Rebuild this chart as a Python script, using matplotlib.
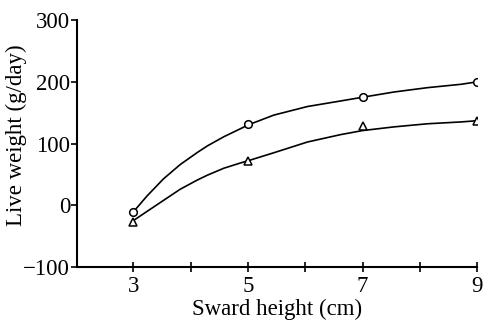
import matplotlib
matplotlib.use('Agg')
import matplotlib.pyplot as plt

# measured points
sward = [3, 5, 7, 9]
circles = [-11, 131, 175, 200]
triangles = [-27, 72, 128, 137]

# fitted curves
curve_x = [3, 3.24, 3.53, 3.82, 4.11, 4.29, 4.58, 4.87, 5, 5.45, 6.04, 6.62, 7, 7.55, 8.13, 8.72, 9]
curve_circ = [-11, 15, 43, 66, 85, 96, 111, 124, 130, 146, 160, 169, 175, 183.5, 190.5, 196, 200]
curve_tri = [-25, -10, 8, 26, 40.5, 48.6, 60, 68.5, 72, 85, 102.5, 114.5, 121, 127, 132, 135, 137]

xticks = [3, 5, 7, 9]
minor_xticks = [4, 6, 8]
yticks = [-100, 0, 100, 200, 300]

plt.rcParams['font.family'] = ['Liberation Serif', 'DejaVu Serif']

fig = plt.figure(figsize=(4.94, 3.24), dpi=100)
ax = fig.add_axes([0.156, 0.176, 0.81, 0.762])

ax.plot(curve_x, curve_circ, color='black', lw=1.2)
ax.plot(curve_x, curve_tri, color='black', lw=1.2)
ax.plot(sward, circles, 'o', mfc='white', mec='black', ms=5.5, mew=1.1)
ax.plot(sward, triangles, '^', mfc='white', mec='black', ms=5.5, mew=1.1)

ax.set_xlim(2.02, 9.0)
ax.set_ylim(-100, 300)
ax.set_xticks(xticks)
ax.set_xticks(minor_xticks, minor=True)
ax.set_yticks(yticks)

for s in ['top', 'right']:
    ax.spines[s].set_visible(False)
for s in ['left', 'bottom']:
    ax.spines[s].set_linewidth(1.5)

ax.tick_params(axis='x', which='both', direction='inout', length=7, width=1.2, labelsize=16.5, pad=3)
ax.tick_params(axis='y', direction='out', length=4, width=1.2, labelsize=16.5, pad=1)

ax.set_xlabel('Sward height (cm)', fontsize=16.5, labelpad=1)
ax.set_ylabel('Live weight (g/day)', fontsize=16.5)
ax.yaxis.set_label_coords(-0.125, 0.534)

plt.savefig('out.png')
